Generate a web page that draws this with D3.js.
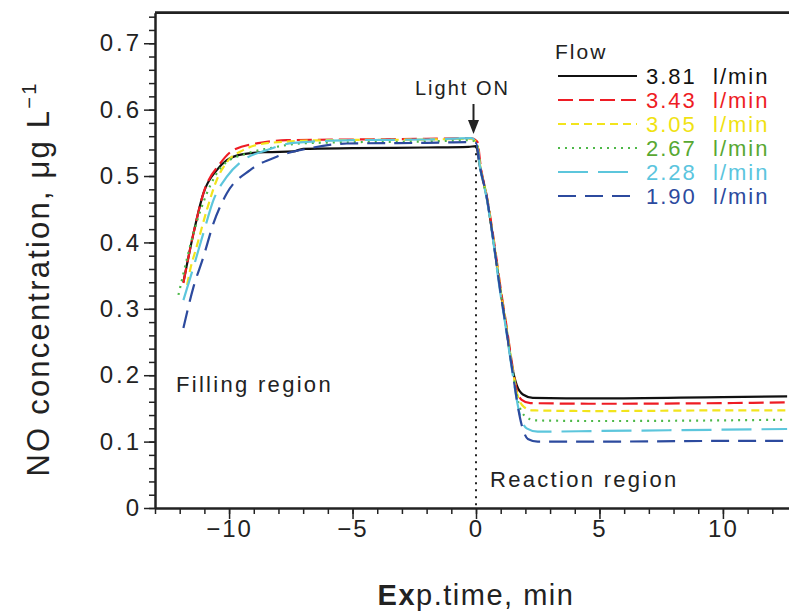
<!DOCTYPE html>
<html>
<head>
<meta charset="utf-8">
<script src="https://cdn.jsdelivr.net/npm/d3@7"></script>
<style>
  body { margin: 0; background: #fff; }
  svg { display: block; }
  text { font-family: "Liberation Sans", Arial, sans-serif; fill: #222; }
</style>
</head>
<body>
<svg id="chart" width="789" height="613"></svg>
<script>
const svg = d3.select("#chart");

// flow rates (l/min) and their styles in the legend
const flows = ["3.81", "3.43", "3.05", "2.67", "2.28", "1.90"];
const lineColors = ["#111111", "#ee1c24", "#f2e41c", "#4db848", "#5cc6dc", "#2c4a9e"];
const textColors = ["#111111", "#ee1c24", "#f0e212", "#58a832", "#5bc5de", "#2c4a9e"];
const dashes = ["none", "15,6", "8,5", "2,5", "30,10", "18,9"];

// [time min, NO µg/L]
const flow381 = [[-11.85,0.34],[-11.44,0.414],[-11.04,0.474],[-10.5,0.509],[-10.09,0.524],[-9.42,0.533],[-8.5,0.536],[-7.4,0.537],[-7.0,0.541],[-5,0.542],[-2,0.543],[-0.3,0.544],[0,0.545],
  [0.16,0.514],[0.43,0.469],[0.7,0.404],[1.0,0.325],[1.2,0.278],[1.45,0.215],[1.65,0.185],[1.9,0.171],[2.3,0.166],[5,0.165],[10,0.167],[12.6,0.168]];
const flow343 = [[-11.85,0.339],[-11.44,0.414],[-11.04,0.474],[-10.36,0.519],[-9.83,0.539],[-8.74,0.55],[-7.66,0.554],[-5,0.555],[-2,0.556],[-0.2,0.557],[0.05,0.552],
  [0.2,0.512],[0.45,0.467],[0.72,0.404],[1.02,0.325],[1.22,0.278],[1.47,0.215],[1.65,0.178],[1.85,0.163],[2.2,0.158],[5,0.157],[10,0.158],[12.6,0.159]];
const flow305 = [[-11.7,0.336],[-11.58,0.358],[-11.31,0.394],[-10.9,0.449],[-10.5,0.494],[-10.09,0.521],[-9.43,0.539],[-8.34,0.55],[-6,0.554],[-2,0.555],[-0.2,0.556],[0.03,0.55],
  [0.18,0.513],[0.44,0.468],[0.71,0.404],[1.01,0.325],[1.21,0.278],[1.46,0.215],[1.68,0.17],[1.95,0.152],[2.3,0.147],[5,0.146],[10,0.147],[12.6,0.147]];
const flow267 = [[-12.05,0.321],[-11.85,0.353],[-11.44,0.414],[-10.9,0.474],[-10.23,0.517],[-9.28,0.534],[-8.34,0.542],[-7.13,0.549],[-5,0.551],[-2,0.552],[-0.2,0.554],[0.03,0.549],
  [0.17,0.513],[0.43,0.468],[0.7,0.404],[1.0,0.325],[1.2,0.278],[1.45,0.215],[1.72,0.158],[2.0,0.138],[2.4,0.132],[5,0.131],[10,0.132],[12.6,0.133]];
const flow228 = [[-11.85,0.313],[-11.44,0.363],[-11.04,0.414],[-10.63,0.464],[-10.09,0.499],[-9.42,0.524],[-8.47,0.539],[-7.4,0.55],[-5,0.554],[-2,0.555],[-0.2,0.557],[0.03,0.55],
  [0.16,0.514],[0.42,0.469],[0.69,0.404],[0.98,0.325],[1.18,0.278],[1.43,0.215],[1.78,0.14],[2.05,0.12],[2.5,0.115],[5,0.116],[10,0.118],[12.6,0.119]];
const flow190 = [[-11.85,0.271],[-11.44,0.333],[-11.04,0.378],[-10.63,0.429],[-10.09,0.474],[-9.15,0.509],[-8.07,0.529],[-6.72,0.542],[-5.23,0.549],[-2,0.55],[-0.3,0.551],[0,0.55],
  [0.16,0.514],[0.43,0.469],[0.7,0.404],[0.99,0.325],[1.19,0.278],[1.44,0.215],[1.85,0.125],[2.1,0.104],[2.5,0.1],[5,0.1],[10,0.101],[12.6,0.101]];
const seriesData = [flow381, flow343, flow305, flow267, flow228, flow190];

const xTicks = [-10, -5, 0, 5, 10];
const yTicks = [0, 0.1, 0.2, 0.3, 0.4, 0.5, 0.6, 0.7];

const x = d3.scaleLinear().domain([-13, 13]).range([155, 797]);
const y = d3.scaleLinear().domain([0, 0.746]).range([508, 12.7]);

// frame: top line
svg.append("line")
  .attr("x1", x(-13)).attr("x2", 789)
  .attr("y1", y(0.746)).attr("y2", y(0.746))
  .attr("stroke", "#222").attr("stroke-width", 2.8);

// x axis
const xMinor = d3.range(-13, 13.1, 1);
svg.append("g")
  .attr("transform", `translate(0,${y(0)})`)
  .call(d3.axisBottom(x).tickValues(xMinor).tickSize(6).tickFormat(""))
  .call(g => g.select(".domain").remove())
  .selectAll("line").attr("stroke", "#222").attr("stroke-width", 1.5);

svg.append("g")
  .attr("transform", `translate(0,${y(0)})`)
  .call(d3.axisBottom(x).tickValues(xTicks).tickSize(11).tickPadding(1).tickSizeOuter(0))
  .call(g => g.select(".domain").attr("stroke", "#222").attr("stroke-width", 2.5))
  .call(g => g.selectAll("line").attr("stroke", "#222").attr("stroke-width", 1.5))
  .call(g => g.selectAll("text").attr("fill", "#222").style("font-size", "24px")
    .style("letter-spacing", "2px").attr("font-family", null));

// y axis
const yMinor = d3.range(0, 0.741, 0.02);
svg.append("g")
  .attr("transform", `translate(${x(-13)},0)`)
  .call(d3.axisLeft(y).tickValues(yMinor).tickSize(6).tickFormat(""))
  .call(g => g.select(".domain").remove())
  .selectAll("line").attr("stroke", "#222").attr("stroke-width", 1.5);

svg.append("g")
  .attr("transform", `translate(${x(-13)},0)`)
  .call(d3.axisLeft(y).tickValues(yTicks).tickSize(11).tickPadding(2).tickSizeOuter(0)
    .tickFormat(d => d === 0 ? "0" : d.toFixed(1)))
  .call(g => g.select(".domain").attr("stroke", "#222").attr("stroke-width", 2.5))
  .call(g => g.selectAll("line").attr("stroke", "#222").attr("stroke-width", 1.5))
  .call(g => g.selectAll("text").attr("fill", "#222").style("font-size", "24px")
    .style("letter-spacing", "3px").attr("font-family", null));

// dotted line at light on
svg.append("line")
  .attr("x1", x(0)).attr("x2", x(0))
  .attr("y1", y(0.545)).attr("y2", y(0))
  .attr("stroke", "#222").attr("stroke-width", 2)
  .attr("stroke-dasharray", "2,5");

// curves
const line = d3.line()
  .x(d => x(d[0]))
  .y(d => y(d[1]))
  .curve(d3.curveMonotoneX);

svg.selectAll("path.series")
  .data(seriesData)
  .enter()
  .append("path")
  .attr("class", "series")
  .attr("d", line)
  .attr("fill", "none")
  .attr("stroke", (d, i) => lineColors[i])
  .attr("stroke-width", 2.2)
  .attr("stroke-dasharray", (d, i) => dashes[i]);

// arrow and "Light ON"
svg.append("line")
  .attr("x1", 473.5).attr("x2", 473.5)
  .attr("y1", 104).attr("y2", 124)
  .attr("stroke", "#222").attr("stroke-width", 2);
svg.append("path")
  .attr("d", "M468,120 L479,120 L473.5,134 Z")
  .attr("fill", "#222");
svg.append("text")
  .attr("x", 415).attr("y", 95)
  .style("font-size", "20px").style("letter-spacing", "2px")
  .text("Light ON");

// region labels
svg.append("text")
  .attr("x", 176).attr("y", 392)
  .style("font-size", "22px").style("letter-spacing", "2.3px")
  .text("Filling region");
svg.append("text")
  .attr("x", 490).attr("y", 487)
  .style("font-size", "22px").style("letter-spacing", "2.3px")
  .text("Reaction region");

// legend
svg.append("text")
  .attr("x", 555).attr("y", 59)
  .style("font-size", "21px").style("letter-spacing", "2px")
  .text("Flow");

const legend = svg.selectAll("g.leg")
  .data(flows)
  .enter()
  .append("g")
  .attr("class", "leg")
  .attr("transform", (d, i) => `translate(0,${84 + i * 24})`);

legend.append("line")
  .attr("x1", 558).attr("x2", 637)
  .attr("y1", -8).attr("y2", -8)
  .attr("stroke", (d, i) => lineColors[i])
  .attr("stroke-width", 2.2)
  .attr("stroke-dasharray", (d, i) => dashes[i]);

legend.append("text")
  .attr("x", 646).attr("y", 0)
  .style("font-size", "22px").style("letter-spacing", "2px")
  .style("fill", (d, i) => textColors[i])
  .attr("xml:space", "preserve")
  .text(d => d + "  l/min");

// axis titles
const xt = svg.append("text")
  .attr("x", 476).attr("y", 605)
  .attr("text-anchor", "middle")
  .style("font-size", "29px").style("letter-spacing", "1.5px");
xt.append("tspan").style("font-weight", "bold").text("Ex");
xt.append("tspan").text("p.time, min");

const yt = svg.append("text")
  .attr("transform", "translate(49,279) rotate(-90)")
  .attr("text-anchor", "middle")
  .style("font-size", "31px").style("letter-spacing", "2.2px");
yt.append("tspan").text("NO concentration, \u03bcg L");
yt.append("tspan").attr("dy", -13).style("font-size", "20px").text("\u22121");
</script>
</body>
</html>
